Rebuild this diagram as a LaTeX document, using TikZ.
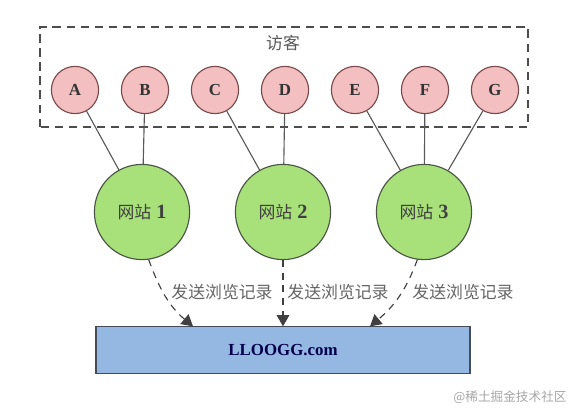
\documentclass[tikz,border=0pt]{standalone}
\usepackage{fontspec}
\setmainfont{Liberation Serif}
\newfontfamily\cjk{Noto Sans CJK SC}
\usetikzlibrary{arrows.meta}
\definecolor{visitpink}{HTML}{F4BFC0}
\definecolor{visitedge}{HTML}{7A4848}
\definecolor{sitegreen}{HTML}{A8E07A}
\definecolor{siteedge}{HTML}{4A5444}
\definecolor{logblue}{HTML}{95B8E2}
\definecolor{logedge}{HTML}{454C58}
\tikzset{
  visitor/.style={circle, draw=visitedge, thick, fill=visitpink, minimum size=1.18cm, inner sep=0pt, font=\large\bfseries, text=black!80},
  site/.style={circle, draw=siteedge, thick, fill=sitegreen, minimum size=2.38cm, inner sep=0pt, font=\Large, text=black!75},
  link/.style={draw=black!65, thick},
  send/.style={draw=black!75, thick, dash pattern=on 5pt off 4pt, -{Triangle[length=8pt,width=9pt]}},
  sendlabel/.style={font=\cjk\large, text=black!60},
}
\begin{document}
\begin{tikzpicture}
  \useasboundingbox (0,0) rectangle (14.35,10.3);
  % visitors group
  \draw[black!70, thick, dash pattern=on 6pt off 4pt] (1.0,7.125) rectangle (13.2,9.625);
  \node[font=\cjk\large, text=black!65] (guests) at (7.075,9.225) {访客};
  \foreach \name [count=\i from 0] in {A,B,C,D,E,F,G}
    \node[visitor] (\name) at ({1.875+1.75*\i},8.05) {\name};
  % websites
  \node[site] (w1) at (3.55,5.0) {{\cjk\large 网站} \textbf{1}};
  \node[site] (w2) at (7.075,5.0) {{\cjk\large 网站} \textbf{2}};
  \node[site] (w3) at (10.6,5.0) {{\cjk\large 网站} \textbf{3}};
  \foreach \v/\w in {A/w1,B/w1,C/w2,D/w2,E/w3,F/w3,G/w3}
    \draw[link] (\v) -- (\w);
  % log server
  \node[draw=logedge, thick, fill=logblue, minimum width=9.35cm, minimum height=1.175cm, font=\large\bfseries, text=black!70!blue] (log) at (7.075,1.54) {LLOOGG.com};
  \coordinate (in1) at ([xshift=-2.25cm]log.north);
  \coordinate (in3) at ([xshift=2.175cm]log.north);
  \draw[send] (w1.-82) to[out=-70,in=140] (in1);
  \draw[send] (w2.south) -- (log.north);
  \draw[send] (w3.-98) to[out=-110,in=40] (in3);
  \node[sendlabel] (s1) at (5.55,3.0) {发送浏览记录};
  \node[sendlabel] (s2) at (8.45,3.0) {发送浏览记录};
  \node[sendlabel] (s3) at (11.575,3.0) {发送浏览记录};
  % watermark
  \node[font=\cjk\small, text=black!35] (mark) at (12.75,0.37) {@稀土掘金技术社区};
\end{tikzpicture}
\end{document}
